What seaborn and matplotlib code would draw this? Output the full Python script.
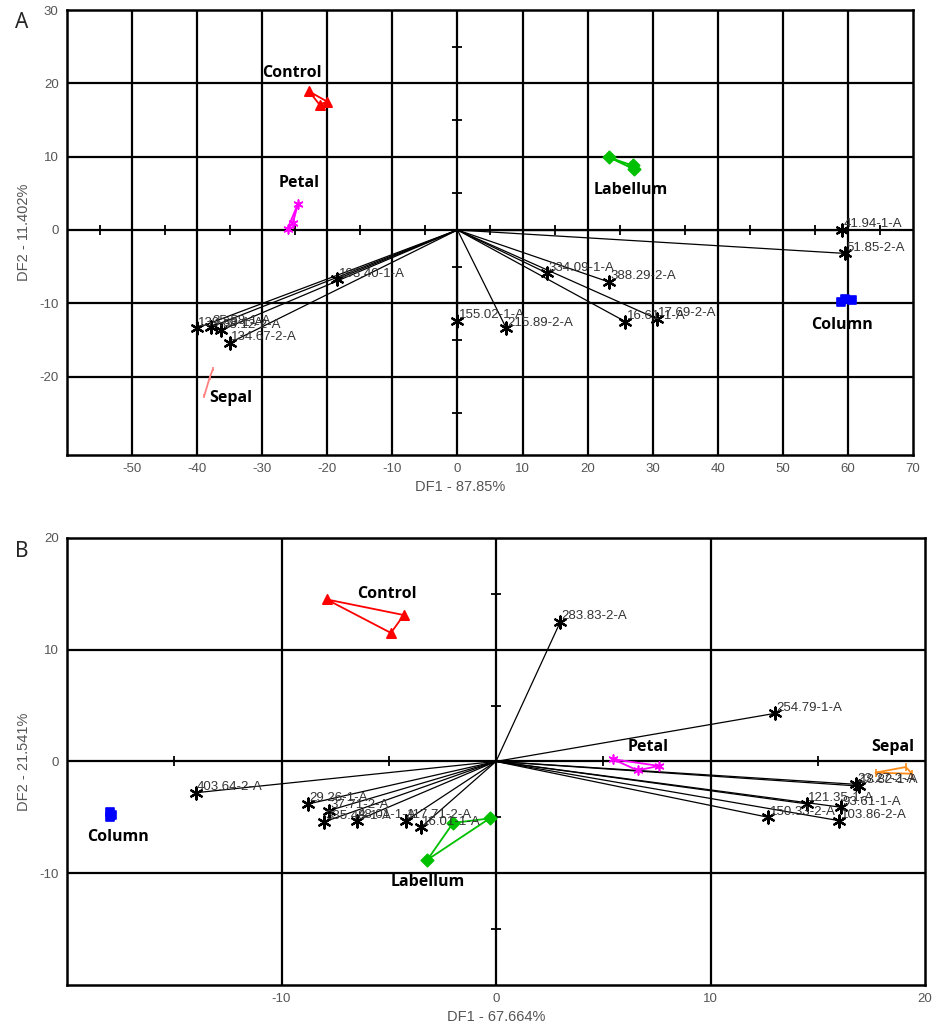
import numpy as np
import pandas as pd
import seaborn as sns
import matplotlib.pyplot as plt

# ---------------- Panel A data ----------------
a_var_labels = ['41.94-1-A', '51.85-2-A', '334.09-1-A', '388.29-2-A', '155.02-1-A',
                '215.89-2-A', '16.61-1-A', '17.69-2-A', '193.40-1-A', '139.38-1-A',
                '35.58-1-A', '38.12-2-A', '134.67-2-A']
a_var_x = [59.1, 59.6, 13.8, 23.3, 0.0, 7.5, 25.8, 30.6, -18.5, -40.1, -37.8, -36.4, -35.0]
a_var_y = [0.0, -3.2, -5.9, -7.1, -12.4, -13.4, -12.5, -12.1, -6.7, -13.4, -13.2, -13.7, -15.4]

a_control_x = [-22.8, -20.0, -21.2]
a_control_y = [18.9, 17.5, 17.1]
a_petal_x = [-24.5, -25.3, -26.1]
a_petal_y = [3.6, 0.9, 0.2]
a_labellum_x = [23.3, 27.1, 26.9]
a_labellum_y = [9.9, 8.3, 8.8]
a_column_x = [59.0, 60.6, 59.6]
a_column_y = [-9.8, -9.6, -9.4]
a_sepal_x = [-37.6, -38.1, -38.9]
a_sepal_y = [-19.0, -20.2, -22.6]

# ---------------- Panel B data ----------------
b_var_labels = ['283.83-2-A', '254.79-1-A', '403.64-2-A', '29.26-1-A', '37.71-2-A',
                '335.48-1-A', '48.01-1-A', '117.71-2-A', '16.01-1-A', '23.27-2-A',
                '18.82-1-A', '121.35-1-A', '93.61-1-A', '150.33-2-A', '103.86-2-A']
b_var_x = [3.0, 13.0, -14.0, -8.75, -7.8, -8.0, -6.5, -4.2, -3.5, 16.8, 16.9, 14.5, 16.1, 12.7, 16.0]
b_var_y = [12.5, 4.3, -2.8, -3.8, -4.4, -5.4, -5.3, -5.3, -5.9, -2.05, -2.2, -3.8, -4.1, -5.0, -5.3]

b_control_x = [-7.9, -4.3, -4.9]
b_control_y = [14.5, 13.1, 11.5]
b_petal_x = [5.45, 6.6, 7.6]
b_petal_y = [0.2, -0.8, -0.4]
b_labellum_x = [-2.0, -0.3, -3.2]
b_labellum_y = [-5.5, -5.1, -8.8]
b_column_x = [-18.0, -17.9, -18.0]
b_column_y = [-4.5, -4.8, -5.0]
b_sepal_x = [17.7, 19.1, 19.4]
b_sepal_y = [-1.0, -0.5, -1.1]

sns.set_style('white')
plt.rcParams['font.family'] = ['Liberation Sans', 'DejaVu Sans']

fig = plt.figure(figsize=(9.32, 10.26), dpi=100)
axA = fig.add_axes([0.0719, 0.5565, 0.9077, 0.4337])
axB = fig.add_axes([0.0719, 0.040, 0.9206, 0.4357])

star = (6, 2, 0)
bold_font = ['Open Sans', 'Liberation Sans', 'DejaVu Sans']


def draw_panel(ax, labels, vx, vy, groups, group_text, xlim, ylim, xticks, yticks,
               grid_x, grid_y, minor_x, minor_y, xlabel, ylabel, xlab_pos):
    ax.set_xlim(*xlim)
    ax.set_ylim(*ylim)
    for g in grid_x:
        ax.axvline(g, color='black', lw=1.6, zorder=1)
    for g in grid_y:
        ax.axhline(g, color='black', lw=1.6, zorder=1)
    # small tick marks along the zero axes
    ax.plot(minor_x, np.zeros(len(minor_x)), ls='none', marker='|', ms=7, mew=1.3, color='black')
    ax.plot(np.zeros(len(minor_y)), minor_y, ls='none', marker='_', ms=7, mew=1.3, color='black')

    # vectors from origin
    for x, y in zip(vx, vy):
        ax.plot([0, x], [0, y], color='black', lw=0.9, zorder=2)
    df = pd.DataFrame({'x': vx, 'y': vy, 'label': labels})
    sns.scatterplot(data=df, x='x', y='y', ax=ax, marker=star, s=75, color='black',
                    linewidth=1.6, zorder=4, legend=False)
    for x, y, t in zip(vx, vy, labels):
        ax.annotate(t, (x, y), xytext=(1, 4), textcoords='offset points', ha='left',
                    va='center', fontsize=9.5, color='#333333', zorder=5)

    # group centroids
    for name, (gx, gy, color, mk, ms, closed) in groups.items():
        px = list(gx) + ([gx[0]] if closed else [])
        py = list(gy) + ([gy[0]] if closed else [])
        ax.plot(px, py, color=color, lw=1.3, zorder=3)
        gdf = pd.DataFrame({'x': gx, 'y': gy})
        sns.scatterplot(data=gdf, x='x', y='y', ax=ax, marker=mk, s=ms, color=color,
                        edgecolor=color, linewidth=1.2, zorder=4, legend=False)
        tx, ty = group_text[name]
        ax.text(tx, ty, name, ha='center', va='center', fontsize=11.5, fontweight='bold',
                family=bold_font, color='black', zorder=6)

    ax.set_xticks(xticks)
    ax.set_yticks(yticks)
    ax.set_xticklabels([str(v) for v in xticks])
    ax.set_yticklabels([str(v) for v in yticks])
    ax.tick_params(length=0, labelsize=9.5, labelcolor='#555555', pad=6)
    ax.grid(False)
    for s in ax.spines.values():
        s.set_color('black')
        s.set_linewidth(1.8)
    ax.set_xlabel(xlabel, fontsize=10.5, color='#555555', labelpad=4)
    ax.set_ylabel(ylabel, fontsize=10.5, color='#555555', labelpad=6)
    ax.xaxis.set_label_coords(xlab_pos, -0.055)


groupsA = {
    'Control': (a_control_x, a_control_y, '#FF0000', '^', 45, True),
    'Petal': (a_petal_x, a_petal_y, '#FF00FF', star, 40, True),
    'Labellum': (a_labellum_x, a_labellum_y, '#00C000', 'D', 40, True),
    'Column': (a_column_x, a_column_y, '#0000FF', 's', 40, True),
    'Sepal': (a_sepal_x, a_sepal_y, '#FF8080', '|', 10, False),
}
textA = {'Control': (-25.4, 21.4), 'Petal': (-24.3, 6.4), 'Labellum': (26.6, 5.5),
         'Column': (59.1, -13.0), 'Sepal': (-34.8, -22.9)}

groupsB = {
    'Control': (b_control_x, b_control_y, '#FF0000', '^', 45, True),
    'Petal': (b_petal_x, b_petal_y, '#FF00FF', star, 40, True),
    'Labellum': (b_labellum_x, b_labellum_y, '#00C000', 'D', 40, True),
    'Column': (b_column_x, b_column_y, '#0000FF', 's', 40, True),
    'Sepal': (b_sepal_x, b_sepal_y, '#FF8C1A', '|', 40, True),
}
textB = {'Control': (-5.1, 15.0), 'Petal': (7.1, 1.25), 'Labellum': (-3.2, -10.8),
         'Column': (-17.6, -6.8), 'Sepal': (18.5, 1.25)}

draw_panel(axA, a_var_labels, a_var_x, a_var_y, groupsA, textA,
           (-60, 70), (-30.7, 30), list(range(-50, 71, 10)), list(range(-20, 31, 10)),
           range(-50, 61, 10), range(-20, 21, 10), list(range(-55, 66, 10)),
           list(range(-25, 26, 10)), 'DF1 - 87.85%', 'DF2 - 11.402%', 0.465)

draw_panel(axB, b_var_labels, b_var_x, b_var_y, groupsB, textB,
           (-20, 20), (-20, 20), [-10, 0, 10, 20], [-10, 0, 10, 20],
           [-10, 0, 10], [-10, 0, 10], [-15, -5, 5, 15], [-15, -5, 5, 15],
           'DF1 - 67.664%', 'DF2 - 21.541%', 0.50)

fig.text(0.016, 0.978, 'A', fontsize=15, family=['Noto Sans', 'DejaVu Sans'], va='center')
fig.text(0.016, 0.462, 'B', fontsize=15, family=['Noto Sans', 'DejaVu Sans'], va='center')

fig.savefig('out.png', dpi=100)
